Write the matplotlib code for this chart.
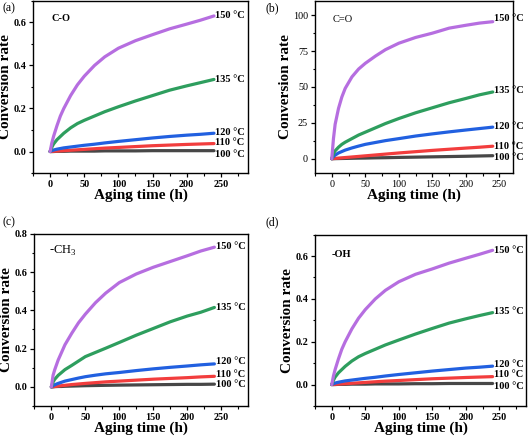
import numpy as np
import matplotlib
matplotlib.use("Agg")
import matplotlib.pyplot as plt
from matplotlib.ticker import AutoMinorLocator

plt.rcParams['font.family'] = ['Liberation Serif', 'DejaVu Serif']
plt.rcParams['mathtext.fontset'] = 'custom'
plt.rcParams['mathtext.rm'] = 'Liberation Serif'

# Aging time (h)
t = [0, 2.5, 5, 10, 15, 20, 30, 40, 50, 65, 80, 100, 125, 150, 175, 200, 220, 240]
temps = ["100 °C", "110 °C", "120 °C", "135 °C", "150 °C"]

# (a) C-O
co_100 = [0, 0, 0, 0.001, 0.001, 0.001, 0.002, 0.002, 0.002, 0.002, 0.003, 0.003, 0.003, 0.004, 0.004, 0.004, 0.004, 0.004]
co_110 = [0, 0, 0.001, 0.002, 0.003, 0.004, 0.006, 0.008, 0.010, 0.013, 0.016, 0.019, 0.023, 0.027, 0.030, 0.033, 0.035, 0.037]
co_120 = [0, 0.004, 0.007, 0.011, 0.014, 0.017, 0.021, 0.025, 0.029, 0.034, 0.040, 0.047, 0.055, 0.063, 0.070, 0.076, 0.080, 0.085]
co_135 = [0, 0.020, 0.035, 0.055, 0.070, 0.085, 0.110, 0.130, 0.145, 0.165, 0.185, 0.208, 0.235, 0.260, 0.285, 0.305, 0.320, 0.335]
co_150 = [0, 0.040, 0.070, 0.120, 0.165, 0.200, 0.260, 0.310, 0.350, 0.400, 0.440, 0.480, 0.515, 0.543, 0.570, 0.592, 0.610, 0.630]

# (b) C=O
cdo_100 = [0, 0.03, 0.05, 0.1, 0.15, 0.2, 0.3, 0.4, 0.45, 0.6, 0.7, 0.9, 1.1, 1.3, 1.5, 1.7, 1.9, 2.1]
cdo_110 = [0, 0.1, 0.2, 0.4, 0.6, 0.8, 1.2, 1.6, 2.0, 2.6, 3.2, 4.0, 4.9, 5.8, 6.6, 7.4, 8.0, 8.7]
cdo_120 = [0, 1.5, 2.5, 4, 5, 6, 7.5, 8.8, 10, 11.3, 12.6, 14, 15.8, 17.3, 18.7, 20, 21, 22]
cdo_135 = [0, 3.5, 5.5, 8, 10, 11.5, 14, 16.5, 18.5, 21.5, 24.5, 28, 32, 35.5, 39, 42, 44.5, 46.5]
cdo_150 = [0, 14, 24, 35, 43, 49, 57, 62.5, 66.5, 71.5, 76, 80.5, 84.5, 87.5, 91, 93, 94.5, 95.5]

# (c) -CH3
ch3_100 = [0, 0, 0.001, 0.002, 0.002, 0.003, 0.004, 0.005, 0.006, 0.007, 0.008, 0.009, 0.010, 0.011, 0.012, 0.013, 0.013, 0.014]
ch3_110 = [0, 0.001, 0.002, 0.004, 0.006, 0.008, 0.012, 0.015, 0.018, 0.022, 0.026, 0.030, 0.035, 0.040, 0.044, 0.048, 0.052, 0.055]
ch3_120 = [0, 0.006, 0.011, 0.018, 0.024, 0.030, 0.038, 0.046, 0.053, 0.061, 0.068, 0.075, 0.085, 0.094, 0.102, 0.109, 0.115, 0.120]
ch3_135 = [0, 0.025, 0.040, 0.060, 0.075, 0.090, 0.112, 0.135, 0.158, 0.180, 0.202, 0.232, 0.270, 0.305, 0.340, 0.370, 0.390, 0.415]
ch3_150 = [0, 0.060, 0.090, 0.140, 0.180, 0.220, 0.280, 0.335, 0.380, 0.440, 0.490, 0.545, 0.590, 0.625, 0.655, 0.685, 0.710, 0.730]

# (d) -OH
oh_100 = [0, 0, 0, 0.001, 0.001, 0.001, 0.002, 0.002, 0.002, 0.003, 0.003, 0.003, 0.004, 0.004, 0.005, 0.005, 0.005, 0.005]
oh_110 = [0, 0, 0.001, 0.002, 0.003, 0.004, 0.006, 0.008, 0.010, 0.013, 0.016, 0.019, 0.023, 0.027, 0.030, 0.033, 0.035, 0.037]
oh_120 = [0, 0.004, 0.007, 0.011, 0.014, 0.017, 0.021, 0.025, 0.029, 0.034, 0.040, 0.047, 0.055, 0.063, 0.070, 0.077, 0.081, 0.086]
oh_135 = [0, 0.020, 0.035, 0.055, 0.070, 0.085, 0.110, 0.130, 0.145, 0.165, 0.185, 0.208, 0.236, 0.262, 0.287, 0.307, 0.322, 0.336]
oh_150 = [0, 0.040, 0.070, 0.120, 0.165, 0.200, 0.260, 0.310, 0.350, 0.400, 0.440, 0.480, 0.515, 0.540, 0.567, 0.590, 0.608, 0.627]

colors = ['#474747', '#f23d3d', '#2160e0', '#2e9e5e', '#b66ee0']

panels = [
    dict(series=[co_100, co_110, co_120, co_135, co_150], title="C-O", tbold=True,
         lab_y=[-0.012, 0.040, 0.088, 0.335, 0.630], ylim=(-0.1, 0.7),
         yticks=[0.0, 0.2, 0.4, 0.6], yfmt="{:.1f}", xlim=(-25, 290),
         pos=[0.0625, 0.604, 0.4065, 0.394], tick_bold=True, letter="(a)", lpos=(0.004, 0.982),
         tpos=(0.087, 0.90)),
    dict(series=[cdo_100, cdo_110, cdo_120, cdo_135, cdo_150], title="C=O", tbold=False,
         lab_y=[0.5, 8.7, 22.7, 47.3, 97.4], ylim=(-10, 110),
         yticks=[0, 25, 50, 75, 100], yfmt="{:.0f}", xlim=(-25, 270),
         pos=[0.5955, 0.604, 0.374, 0.394], tick_bold=False, letter="(b)", lpos=(0.501, 0.982),
         tpos=(0.09, 0.89)),
    dict(series=[ch3_100, ch3_110, ch3_120, ch3_135, ch3_150], title="-CH$_3$", tbold=False,
         lab_y=[0.014, 0.066, 0.131, 0.414, 0.734], ylim=(-0.1, 0.8),
         yticks=[0.0, 0.2, 0.4, 0.6, 0.8], yfmt="{:.1f}", xlim=(-25, 290),
         pos=[0.065, 0.071, 0.4045, 0.394], tick_bold=True, letter="(c)", lpos=(0.004, 0.492),
         tpos=(0.069, 0.90)),
    dict(series=[oh_100, oh_110, oh_120, oh_135, oh_150], title="-OH", tbold=True,
         lab_y=[-0.009, 0.045, 0.094, 0.339, 0.625], ylim=(-0.1, 0.7),
         yticks=[0.0, 0.2, 0.4, 0.6], yfmt="{:.1f}", xlim=(-25, 290),
         pos=[0.5955, 0.071, 0.399, 0.392], tick_bold=True, letter="(d)", lpos=(0.501, 0.492),
         tpos=(0.08, 0.885)),
]

fig = plt.figure(figsize=(5.29, 4.37), dpi=100)

for p in panels:
    ax = fig.add_axes(p['pos'])
    for s, c in zip(p['series'], colors):
        ax.plot(t, s, color=c, lw=2.3, solid_capstyle='round', solid_joinstyle='round')
    for ly, lab in zip(p['lab_y'], temps):
        ax.text(242, ly, lab, fontsize=7.5, fontweight='bold', va='center', ha='left')
    ax.text(p['tpos'][0], p['tpos'][1], p['title'], transform=ax.transAxes,
            fontsize=9 if '$' in p['title'] else 7.5,
            fontweight='bold' if p['tbold'] else 'normal', va='center', ha='left')
    ax.set_xlim(p['xlim'])
    ax.set_ylim(p['ylim'])
    ax.set_xticks([0, 50, 100, 150, 200, 250])
    ax.set_yticks(p['yticks'])
    ax.set_yticklabels([p['yfmt'].format(v) for v in p['yticks']])
    ax.xaxis.set_minor_locator(AutoMinorLocator(2))
    ax.yaxis.set_minor_locator(AutoMinorLocator(2))
    ax.tick_params(which='major', direction='out', length=3, width=0.9, labelsize=7.3, pad=2)
    ax.tick_params(which='minor', direction='out', length=1.8, width=0.8)
    tw = 'bold' if p['tick_bold'] else 'normal'
    for lbl in ax.get_xticklabels() + ax.get_yticklabels():
        lbl.set_fontweight(tw)
    for sp in ax.spines.values():
        sp.set_linewidth(1.0)
    ax.set_xlabel("Aging time (h)", fontsize=11, fontweight='bold', labelpad=0)
    ax.set_ylabel("Conversion rate", fontsize=11, fontweight='bold', labelpad=1)
    fig.text(p['lpos'][0], p['lpos'][1], p['letter'], fontsize=8.5, va='center', ha='left')

fig.savefig("out.png", dpi=100)
